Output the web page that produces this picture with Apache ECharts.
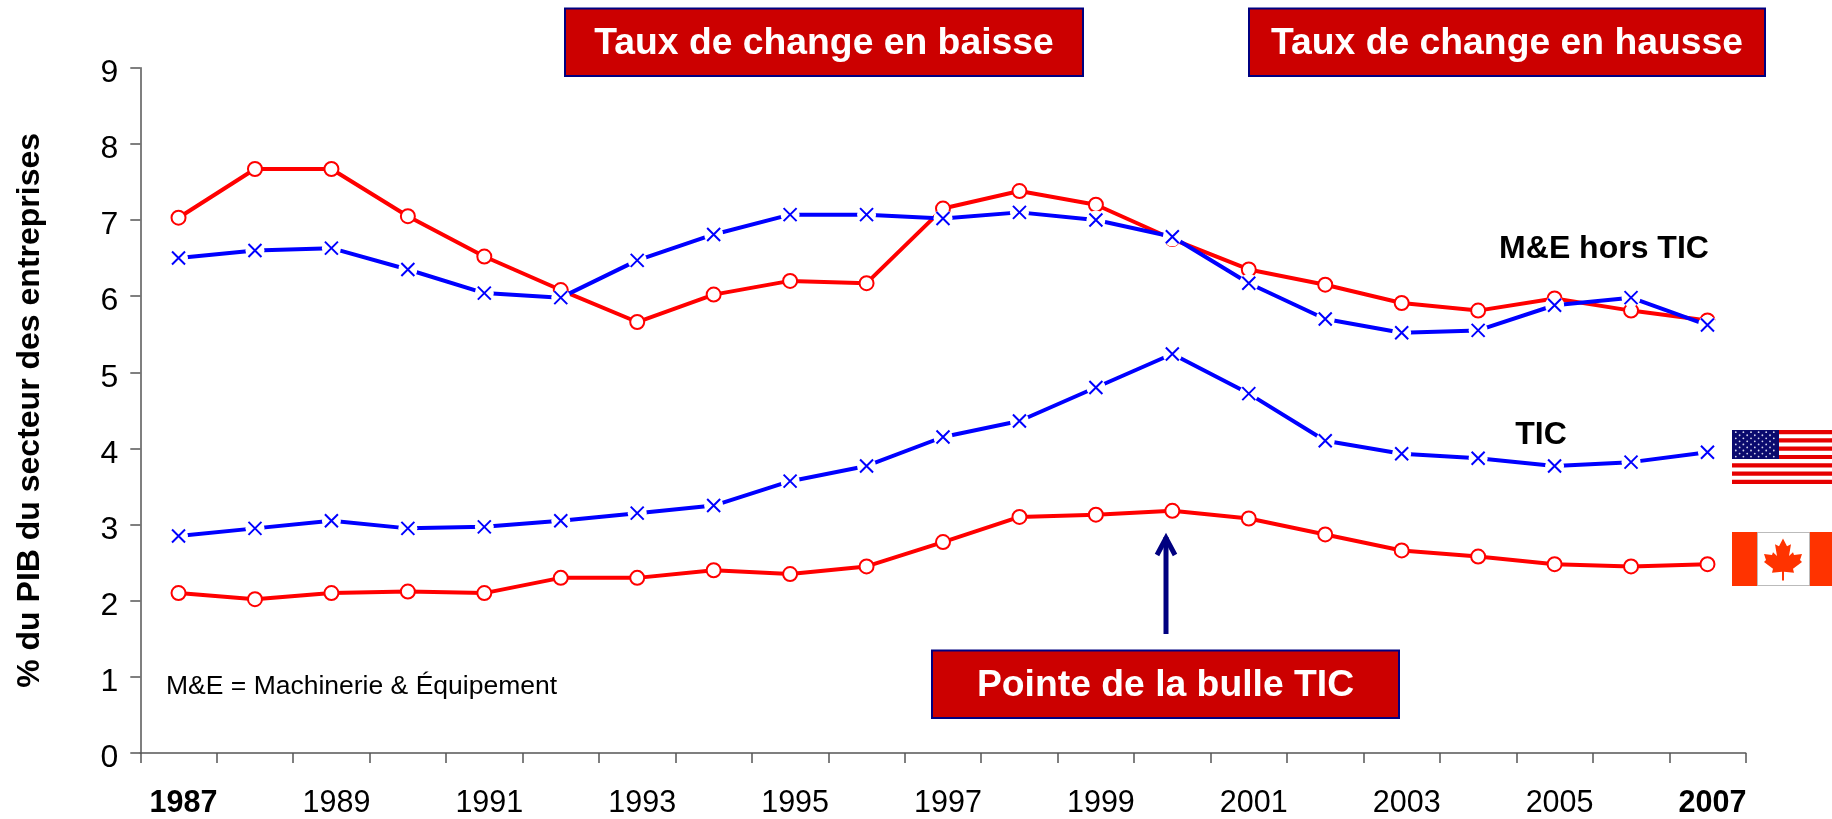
<!DOCTYPE html>
<html><head><meta charset="utf-8">
<style>html,body{margin:0;padding:0;background:#fff}#c{width:1832px;height:819px}</style>
<script src="https://cdn.jsdelivr.net/npm/echarts@6/dist/echarts.min.js"></script>
</head><body><div id="c"></div>
<script>
const years = ['1987','1988','1989','1990','1991','1992','1993','1994','1995','1996','1997','1998','1999','2000','2001','2002','2003','2004','2005','2006','2007'];
const canadaNonIct = [7.03,7.67,7.67,7.05,6.52,6.08,5.66,6.02,6.20,6.17,7.15,7.38,7.20,6.75,6.35,6.15,5.91,5.81,5.97,5.81,5.68];
const usNonIct = [6.50,6.60,6.63,6.35,6.04,5.98,6.47,6.81,7.07,7.07,7.02,7.10,7.00,6.78,6.17,5.70,5.52,5.55,5.88,5.98,5.62];
const usIct = [2.85,2.95,3.05,2.95,2.97,3.05,3.15,3.25,3.57,3.77,4.15,4.36,4.80,5.24,4.72,4.10,3.93,3.87,3.77,3.82,3.95];
const canadaIct = [2.10,2.02,2.10,2.12,2.10,2.30,2.30,2.40,2.35,2.45,2.77,3.10,3.13,3.18,3.08,2.87,2.66,2.58,2.48,2.45,2.48];

const FONT = '"Liberation Sans", Arial, sans-serif';
const RED = '#ff0000', BLUE = '#0000ff', NAVY = '#000080', BOX = '#cc0000';
const X_SYMBOL = 'path://M0 0L10 10M10 0L0 10';

function redLine(name, data) {
  return { name, type: 'line', data, z: 2, symbol: 'circle', symbolSize: 14, showSymbol: true,
    lineStyle: { color: RED, width: 4 },
    itemStyle: { color: '#fff', borderColor: RED, borderWidth: 2 } };
}
function blueLine(name, data) {
  return { name, type: 'line', data, z: 3, symbol: 'circle', symbolSize: 19, showSymbol: true,
    lineStyle: { color: BLUE, width: 4 },
    itemStyle: { color: '#fff', borderWidth: 0 } };
}
function blueCross(name, data) {
  return { name, type: 'scatter', data, z: 4, symbol: X_SYMBOL, symbolSize: 13,
    itemStyle: { color: 'none', borderColor: BLUE, borderWidth: 2, opacity: 1 } };
}
function box(x, y, w, h, text) {
  return { type: 'group', children: [
    { type: 'rect', shape: { x, y, width: w, height: h }, style: { fill: BOX, stroke: NAVY, lineWidth: 2 } },
    { type: 'text', x: x + w / 2, y: y + h / 2 + 1.5, style: { text, fill: '#fff', font: 'bold 37.3px ' + FONT, textAlign: 'center', textVerticalAlign: 'middle' } }
  ]};
}
function label(x, y, text, font, align) {
  return { type: 'text', x, y, style: { text, fill: '#000', font: font + ' ' + FONT, textAlign: align || 'center', textVerticalAlign: 'middle' } };
}
function usFlag(x, y, w, h) {
  const kids = [{ type: 'rect', shape: { x, y, width: w, height: h }, style: { fill: '#fff' } }];
  const s = h / 13;
  for (let i = 0; i < 13; i += 2) kids.push({ type: 'rect', shape: { x, y: y + i * s, width: w, height: s }, style: { fill: '#e60000' } });
  const cw = 47, ch = s * 7;
  kids.push({ type: 'rect', shape: { x, y, width: cw, height: ch }, style: { fill: '#0a0a6e' } });
  for (let r = 0; r < 9; r++) {
    const n = r % 2 ? 5 : 6;
    for (let c = 0; c < n; c++) kids.push({ type: 'circle',
      shape: { cx: x + (r % 2 ? 7.6 : 3.8) + c * 7.6, cy: y + 2.2 + r * 3.05, r: 0.9 }, style: { fill: '#d8d8ee' } });
  }
  return { type: 'group', children: kids };
}
function caFlag(x, y, w, h) {
  const right = [[0,-21],[4,-13],[8,-15],[6,-3],[10,-7],[11,-4],[19,-5],[17,1],[19,3],[10,10],[11,14],[1,13],[1,22]];
  const pts = right.concat(right.slice().reverse().map(p => [-p[0], p[1]]));
  const cx = x + 51, cy = y + h / 2;
  return { type: 'group', children: [
    { type: 'rect', shape: { x, y, width: w, height: h }, style: { fill: '#ff3300' } },
    { type: 'rect', shape: { x: x + 25.5, y: y + 0.5, width: 52, height: h - 1 }, style: { fill: '#fff', stroke: '#bbb', lineWidth: 1 } },
    { type: 'polygon', shape: { points: pts.map(p => [cx + p[0], cy + p[1] * 0.98]) }, style: { fill: '#ff3300' } }
  ]};
}

const chart = echarts.init(document.getElementById('c'), null, { renderer: 'canvas' });
chart.setOption({
  animation: false,
  backgroundColor: '#fff',
  textStyle: { fontFamily: FONT },
  grid: { left: 140.3, right: 86.3, top: 67.7, bottom: 63.5, containLabel: false },
  xAxis: { type: 'category', data: years, boundaryGap: true,
    axisLine: { onZero: true, lineStyle: { color: '#555', width: 1.5 } },
    axisTick: { show: true, interval: 0, length: 10, inside: false, lineStyle: { color: '#555', width: 1.5 } },
    axisLabel: { interval: 1, margin: 35, fontSize: 30.5, color: '#000', fontFamily: FONT, showMinLabel: true, showMaxLabel: true, hideOverlap: false, padding: [0, 0, 0, 10],
      formatter: v => (v === '1987' || v === '2007') ? '{b|' + v + '}' : v,
      rich: { b: { fontWeight: 'bold', fontSize: 30.5, color: '#000', fontFamily: FONT } } },
    splitLine: { show: false } },
  yAxis: { type: 'value', min: 0, max: 9, interval: 1,
    name: '% du PIB du secteur des entreprises', nameLocation: 'middle', nameRotate: 90, nameGap: 94,
    nameTextStyle: { fontSize: 32, fontWeight: 'bold', color: '#000', fontFamily: FONT },
    axisLine: { show: true, lineStyle: { color: '#555', width: 1.5 } },
    axisTick: { show: true, length: 10, lineStyle: { color: '#555', width: 1.5 } },
    axisLabel: { margin: 22, fontSize: 32, color: '#000', fontFamily: FONT, verticalAlign: 'top', lineHeight: 11 },
    splitLine: { show: false } },
  series: [
    redLine('M&E hors TIC Canada', canadaNonIct),
    redLine('TIC Canada', canadaIct),
    blueLine('M&E hors TIC États-Unis', usNonIct),
    blueLine('TIC États-Unis', usIct),
    blueCross('M&E hors TIC États-Unis', usNonIct),
    blueCross('TIC États-Unis', usIct)
  ],
  graphic: { elements: [
    box(565, 8.5, 518, 67.5, 'Taux de change en baisse'),
    box(1249, 8.5, 516, 67.5, 'Taux de change en hausse'),
    box(932, 650.5, 467, 67.5, 'Pointe de la bulle TIC'),
    label(1604, 249, 'M&E hors TIC', 'bold 32px'),
    label(1541, 435.5, 'TIC', 'bold 32px'),
    label(166, 686.5, 'M&E = Machinerie & Équipement', '26.5px', 'left'),
    { type: 'polyline', shape: { points: [[1166, 634], [1166, 537]] }, style: { stroke: NAVY, lineWidth: 5, fill: 'none' } },
    { type: 'polyline', shape: { points: [[1157, 555], [1166, 538], [1175, 555]] }, style: { stroke: NAVY, lineWidth: 5, fill: 'none' } },
    usFlag(1732, 430, 100, 54),
    caFlag(1732, 532, 100, 54)
  ]}
});
</script></body></html>
